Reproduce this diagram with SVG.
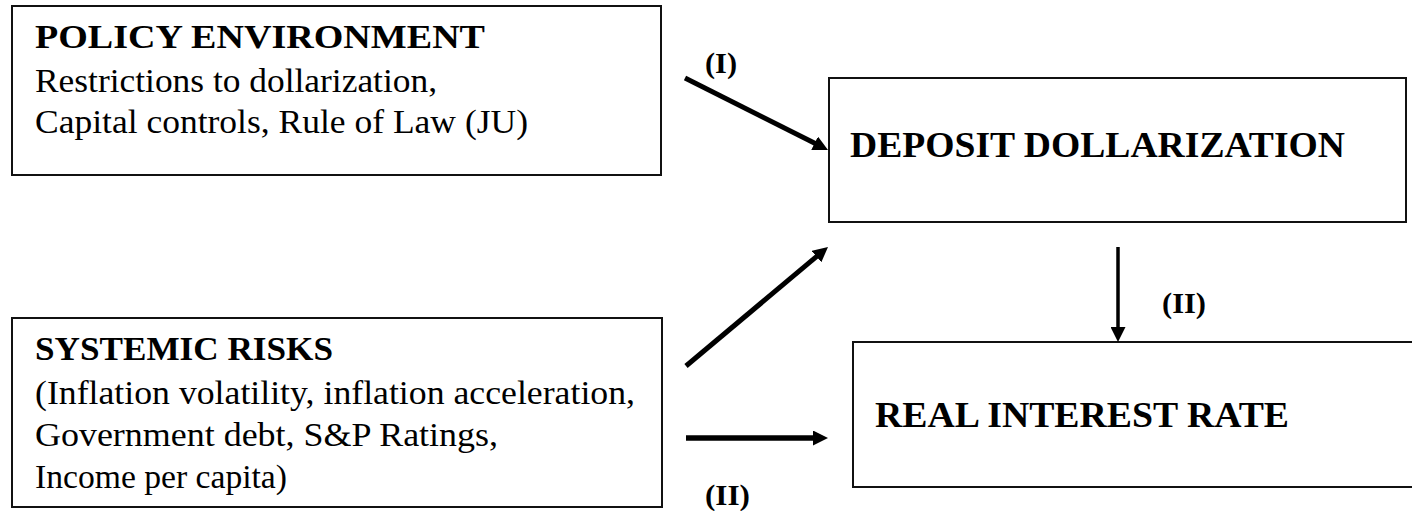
<svg xmlns="http://www.w3.org/2000/svg" width="1412" height="511" viewBox="0 0 1412 511">
<defs>
<style>
.box{fill:#fff;stroke:#111;stroke-width:2}
.t{font-family:"Liberation Serif",serif;font-size:34px;fill:#000}
.b{font-weight:bold;font-size:33px}
.big{font-family:"Liberation Serif",serif;font-size:36px;font-weight:bold;fill:#000}
.lbl{font-family:"Liberation Serif",serif;font-size:29px;font-weight:bold;fill:#000}
.c{stroke:#000;fill:none;marker-end:url(#ah)}
</style>
<marker id="ah" viewBox="0 0 10 10" refX="2" refY="5" markerWidth="15" markerHeight="15" orient="auto" markerUnits="userSpaceOnUse">
<path d="M0,0 L10,5 L0,10 z" fill="#000"/>
</marker>
</defs>
<rect width="1412" height="511" fill="#fff"/>
<g id="policy">
<rect class="box" x="12" y="6" width="649" height="169"/>
<text class="t b" x="35" y="48" textLength="450" lengthAdjust="spacingAndGlyphs">POLICY ENVIRONMENT</text>
<text class="t" x="35" y="92" textLength="402" lengthAdjust="spacingAndGlyphs">Restrictions to dollarization,</text>
<text class="t" x="35" y="133" textLength="493" lengthAdjust="spacingAndGlyphs">Capital controls, Rule of Law (JU)</text>
</g>
<g id="systemic">
<rect class="box" x="12" y="318" width="650" height="189"/>
<text class="t b" x="35" y="360" textLength="298" lengthAdjust="spacingAndGlyphs">SYSTEMIC RISKS</text>
<text class="t" x="35" y="404" textLength="600" lengthAdjust="spacingAndGlyphs">(Inflation volatility, inflation acceleration,</text>
<text class="t" x="35" y="446" textLength="463" lengthAdjust="spacingAndGlyphs">Government debt, S&amp;P Ratings,</text>
<text class="t" x="35" y="488" textLength="252" lengthAdjust="spacingAndGlyphs">Income per capita)</text>
</g>
<g id="deposit">
<rect class="box" x="829" y="78" width="577" height="144"/>
<text class="big" x="850" y="157" textLength="495" lengthAdjust="spacingAndGlyphs">DEPOSIT DOLLARIZATION</text>
</g>
<g id="real">
<rect class="box" x="853" y="342" width="562" height="145"/>
<text class="big" x="875" y="427" textLength="414" lengthAdjust="spacingAndGlyphs">REAL INTEREST RATE</text>
</g>
<g id="connectors">
<line class="c" x1="685" y1="78" x2="817.3" y2="144.6" stroke-width="5"/>
<line class="c" x1="686" y1="366" x2="818.8" y2="254.7" stroke-width="5"/>
<line class="c" x1="686" y1="438" x2="816" y2="438" stroke-width="5.5"/>
<line class="c" x1="1118" y1="247" x2="1118" y2="330" stroke-width="3.5"/>
<text class="lbl" x="705" y="73" textLength="32" lengthAdjust="spacingAndGlyphs">(I)</text>
<text class="lbl" x="1162" y="313" textLength="44" lengthAdjust="spacingAndGlyphs">(II)</text>
<text class="lbl" x="705" y="505" textLength="45" lengthAdjust="spacingAndGlyphs">(II)</text>
</g>
</svg>
